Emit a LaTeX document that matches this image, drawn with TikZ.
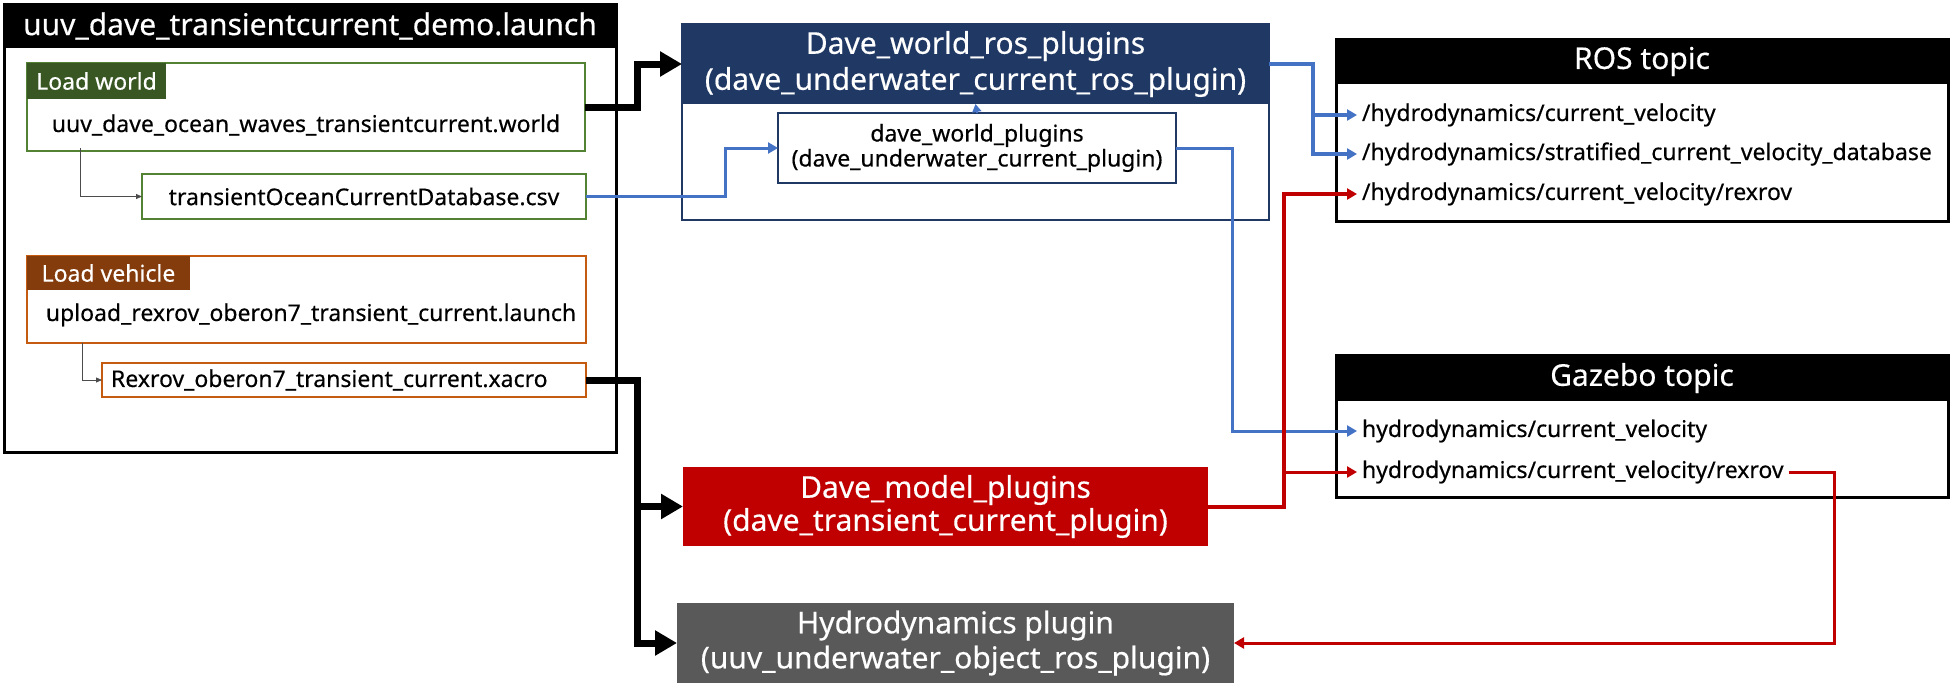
\documentclass[tikz,border=0pt]{standalone}
\usepackage{fontspec}
\setmainfont{Noto Sans}[FakeBold=0.4]
\usetikzlibrary{arrows.meta,calc}
\definecolor{navy}{HTML}{203864}
\definecolor{wgreen}{HTML}{548235}
\definecolor{wgreenD}{HTML}{385723}
\definecolor{vbrown}{HTML}{C55A11}
\definecolor{vbrownD}{HTML}{843C0C}
\definecolor{mred}{HTML}{C00000}
\definecolor{hgray}{HTML}{595959}
\definecolor{bluel}{HTML}{4472C4}
\definecolor{redl}{HTML}{C00000}
\begin{document}
\begin{tikzpicture}[x=1pt,y=-1pt,
  bigfont/.style={font=\fontsize{30}{36}\selectfont},
  smallfont/.style={font=\fontsize{23}{25}\selectfont},
  frame/.style={draw, anchor=north west, inner sep=0pt, outer sep=0pt},
  hdr/.style={anchor=north west, inner sep=0pt, outer sep=0pt, text=white, align=center},
  item/.style={anchor=west, inner xsep=5pt, inner ysep=0pt, outer sep=0pt, smallfont},
  bigarrow/.style={line width=7pt, -{Triangle[length=22pt,width=24pt]}},
  thinarr/.style={line width=0.8pt, draw=black!70, -{Triangle[length=6pt,width=5pt]}},
  blueln/.style={draw=bluel, line width=3pt, -{Triangle[length=10pt,width=11pt]}},
  redln/.style={draw=redl, line width=3pt, -{Triangle[length=10pt,width=11pt]}}]
\useasboundingbox (0,0) rectangle (1952,696);

% launch file
\node[frame, line width=3pt, minimum width=612pt, minimum height=448pt] (launch) at (4,4) {};
\node[hdr, fill=black, minimum width=612pt, minimum height=44pt, bigfont] (launchT) at (4,4) {uuv\_dave\_transientcurrent\_demo.launch};

\node[frame, draw=wgreen, line width=1.5pt, minimum width=558pt, minimum height=88pt] (worldbox) at (27,63) {};
\node[hdr, fill=wgreenD, minimum width=139pt, minimum height=36pt, smallfont] (worldlbl) at (27,63) {Load world};
\node[smallfont, inner sep=0pt] (worldtxt) at (306,125) {uuv\_dave\_ocean\_waves\_transientcurrent.world};
\node[frame, draw=wgreen, line width=1.5pt, minimum width=444pt, minimum height=45pt, smallfont] (csv) at (142,174) {transientOceanCurrentDatabase.csv};

\node[frame, draw=vbrown, line width=1.5pt, minimum width=559pt, minimum height=87pt] (vehbox) at (27,256) {};
\node[hdr, fill=vbrownD, minimum width=163pt, minimum height=34pt, smallfont] (vehlbl) at (27,256) {Load vehicle};
\node[smallfont, inner sep=0pt] (vehtxt) at (311,315) {upload\_rexrov\_oberon7\_transient\_current.launch};
\node[frame, draw=vbrown, line width=1.5pt, minimum height=34pt, text width=466pt, inner xsep=9pt, align=left, smallfont] (xacro) at (102,363) {Rexrov\_oberon7\_transient\_current.xacro};

\coordinate (w1) at (80,148);
\draw[thinarr] (w1) |- (csv.west);
\coordinate (v1) at (82,343);
\draw[thinarr] (v1) |- (xacro.west);

% Dave world
\node[frame, draw=navy, line width=2.5pt, minimum width=587pt, minimum height=196pt] (dw) at (682,24) {};
\node[hdr, fill=navy, minimum width=587pt, minimum height=80pt, bigfont] (dwh) at (682,24) {Dave\_world\_ros\_plugins\\(dave\_underwater\_current\_ros\_plugin)};
\node[frame, draw=navy, line width=2.5pt, fill=white, minimum width=398pt, minimum height=70pt, smallfont, align=center] (dwp) at (778,113) {dave\_world\_plugins\\(dave\_underwater\_current\_plugin)};

% model plugins
\node[hdr, fill=mred, minimum width=525pt, minimum height=79pt, font=\fontsize{30}{33}\selectfont] (dm) at (683,467) {Dave\_model\_plugins\\(dave\_transient\_current\_plugin)};
\node[hdr, fill=hgray, minimum width=557pt, minimum height=80pt, font=\fontsize{30}{35}\selectfont] (hy) at (677,603) {Hydrodynamics plugin\\(uuv\_underwater\_object\_ros\_plugin)};

% ROS topic
\node[frame, line width=3pt, minimum width=612pt, minimum height=182pt] (ros) at (1336,39) {};
\node[hdr, fill=black, minimum width=612pt, minimum height=45pt, bigfont] (rosT) at (1336,39) {ROS topic};
\node[item] (r1) at (1357,115) {/hydrodynamics/current\_velocity};
\node[item] (r2) at (1357,154) {/hydrodynamics/stratified\_current\_velocity\_database};
\node[item] (r3) at (1357,194) {/hydrodynamics/current\_velocity/rexrov};

% Gazebo topic
\node[frame, line width=3pt, minimum width=612pt, minimum height=142pt] (gz) at (1336,355) {};
\node[hdr, fill=black, minimum width=612pt, minimum height=46pt, bigfont] (gzT) at (1336,355) {Gazebo topic};
\node[item] (g1) at (1357,431) {hydrodynamics/current\_velocity};
\node[item] (g2) at (1357,472) {hydrodynamics/current\_velocity/rexrov};

% black connectors
\draw[bigarrow] (worldbox.east) -- ++(52,0) |- (dwh.west);
\coordinate (jb) at ($(xacro.east)+(51,0)$);
\draw[bigarrow] (xacro.east) -- (jb) |- (hy.west);
\draw[bigarrow] (jb) |- (dm.west);

% blue connectors
\draw[blueln] (csv.east) -- ++(139,0) |- (dwp.west);
\draw[blueln, line width=2pt, -{Triangle[length=8pt,width=9pt]}] (dwp.north) -- (dwh.south);
\draw[blueln] (dwp.east) -- ++(56,0) |- (g1.west);
\draw[blueln, line width=4pt] (dwh.east) -- ++(44,0) coordinate (jbl) |- (r2.west);
\draw[blueln, line width=4pt] (jbl) |- (r1.west);

% red connectors
\draw[redln, line width=4pt] (dm.east) -- ++(76,0) coordinate (jr) |- (r3.west);
\draw[redln] (jr) |- (g2.west);
\draw[redln] (g2.east) -- ++(46,0) |- (hy.east);
\end{tikzpicture}
\end{document}
